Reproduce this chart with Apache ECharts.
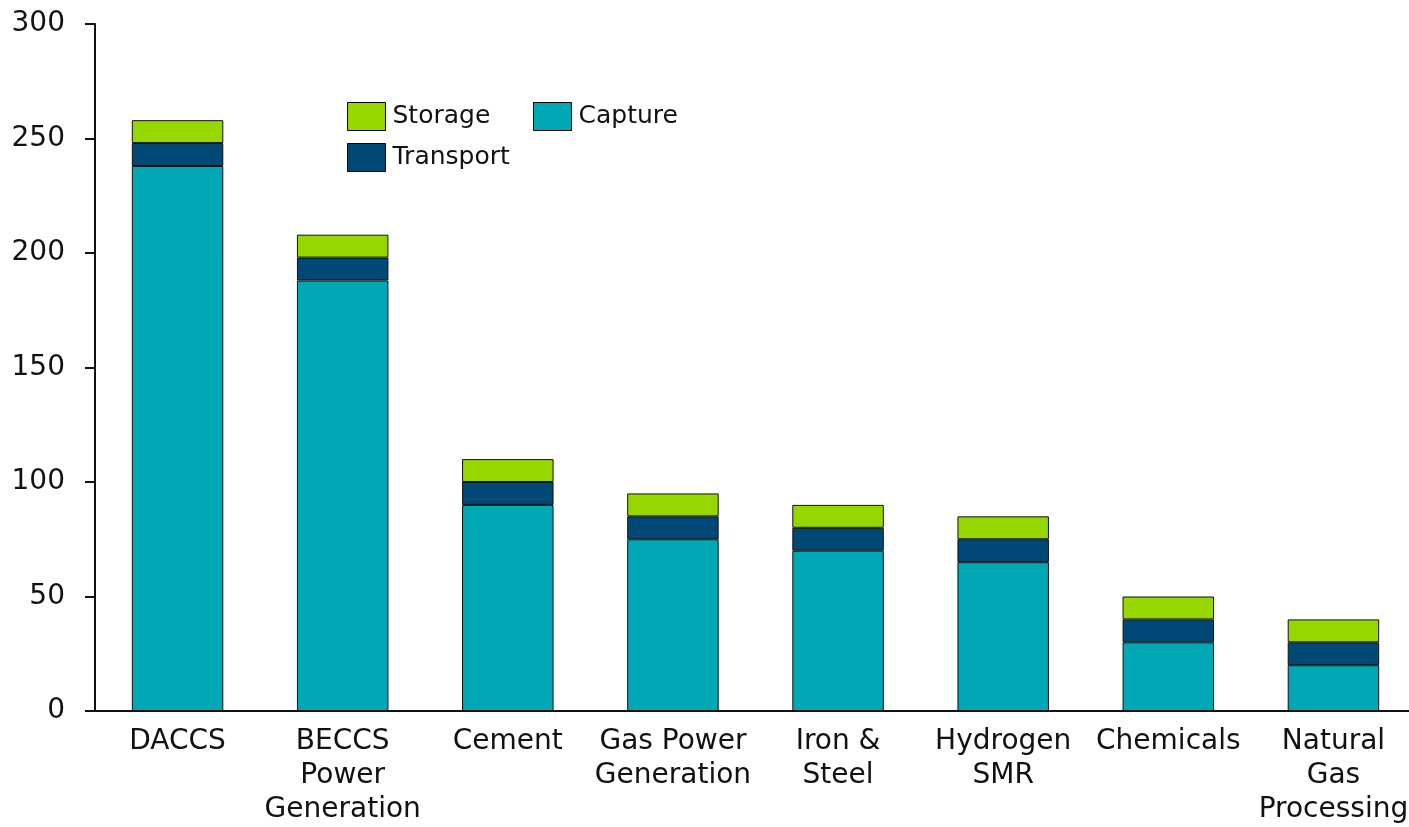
<!DOCTYPE html>
<html>
<head>
<meta charset="utf-8">
<script src="https://cdn.jsdelivr.net/npm/echarts@6/dist/echarts.min.js"></script>
<style>
html, body { margin: 0; padding: 0; background: #fff; overflow: hidden; }
/* the reference crops the right edge of the plot, so the canvas runs a little wider than the window */
#chart { width: 1416px; height: 827px; }
</style>
</head>
<body>
<div id="chart"></div>
<script>
// categories and values
const categories = ['DACCS', 'BECCS\nPower\nGeneration', 'Cement', 'Gas Power\nGeneration',
    'Iron &\nSteel', 'Hydrogen\nSMR', 'Chemicals', 'Natural\nGas\nProcessing'];
const capture = [238, 188, 90, 75, 70, 65, 30, 20];
const transport = [10, 10, 10, 10, 10, 10, 10, 10];
const storage = [10, 10, 10, 10, 10, 10, 10, 10];

const FONT = 'DejaVu Sans';
const colors = { Capture: '#00A8B5', Transport: '#004976', Storage: '#97D700' };

const chart = echarts.init(document.getElementById('chart'));

function legendAt(name, left, top) {
    return {
        data: [name],
        left: left,
        top: top,
        itemWidth: 38,
        itemHeight: 28,
        icon: 'rect',
        itemStyle: { borderColor: '#000', borderWidth: 1 },
        textStyle: { fontFamily: FONT, fontSize: 25, color: '#111', padding: [0, 0, 0, 2] }
    };
}

function barSeries(name, data) {
    return {
        name: name,
        type: 'bar',
        stack: 'total',
        data: data,
        barWidth: '55.4%',
        itemStyle: { color: colors[name], borderColor: '#111', borderWidth: 1 },
        emphasis: { disabled: true }
    };
}

const option = {
    animation: false,
    legend: [
        legendAt('Storage', 342, 97),
        legendAt('Capture', 528, 97),
        legendAt('Transport', 342, 138)
    ],
    grid: { left: 95, right: 0, top: 24, bottom: 113, containLabel: false },
    xAxis: {
        type: 'category',
        data: categories,
        axisLine: { lineStyle: { color: '#111', width: 2 } },
        axisTick: { show: false },
        axisLabel: {
            interval: 0,
            margin: 14,
            color: '#111',
            fontFamily: FONT,
            fontSize: 28,
            lineHeight: 34
        }
    },
    yAxis: {
        type: 'value',
        min: 0,
        max: 300,
        interval: 50,
        axisLine: { show: true, lineStyle: { color: '#111', width: 2 } },
        axisTick: { show: true, length: 10, lineStyle: { color: '#111', width: 2 } },
        splitLine: { show: false },
        axisLabel: {
            margin: 30,
            color: '#111',
            fontFamily: FONT,
            fontSize: 28
        }
    },
    series: [
        barSeries('Capture', capture),
        barSeries('Transport', transport),
        barSeries('Storage', storage)
    ]
};

chart.setOption(option);
</script>
</body>
</html>
